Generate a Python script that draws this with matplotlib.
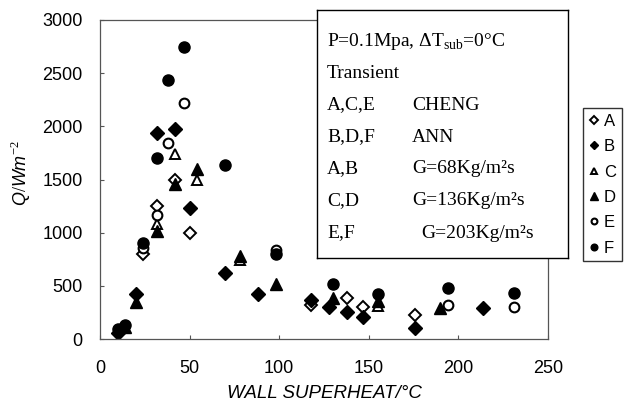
import matplotlib.pyplot as plt

plt.rcParams['mathtext.fontset'] = 'custom'
plt.rcParams['mathtext.rm'] = 'Liberation Serif'
plt.rcParams['mathtext.it'] = 'Liberation Sans:italic'

# data (wall superheat in C, heat flux in W/m2)
a_x = [24, 32, 42, 50, 118, 138, 147, 176]
a_y = [800, 1250, 1500, 1000, 320, 385, 300, 230]
b_x = [10, 20, 32, 42, 50, 70, 88, 118, 128, 138, 147, 176, 214]
b_y = [60, 420, 1940, 1975, 1230, 620, 420, 370, 300, 250, 210, 100, 290]
c_x = [32, 42, 54, 78, 155]
c_y = [1080, 1740, 1500, 740, 310]
d_x = [14, 20, 32, 42, 54, 78, 98, 130, 155, 190]
d_y = [110, 350, 1020, 1460, 1600, 780, 520, 390, 360, 290]
e_x = [24, 32, 38, 47, 98, 194, 231]
e_y = [860, 1170, 1840, 2220, 840, 320, 300]
f_x = [10, 14, 24, 32, 38, 47, 70, 98, 130, 155, 194, 231]
f_y = [90, 130, 900, 1700, 2440, 2750, 1640, 800, 520, 420, 480, 430]

xticks = [0, 50, 100, 150, 200, 250]
yticks = [0, 500, 1000, 1500, 2000, 2500, 3000]

W, H = 630, 407
fig = plt.figure(figsize=(W / 100, H / 100), dpi=100)
ax = fig.add_axes([100 / W, 1 - 339 / H, 448 / W, 319 / H])

ax.plot(a_x, a_y, 'D', ms=6.5, mfc='white', mec='black', mew=1.4, label='A')
ax.plot(b_x, b_y, 'D', ms=7, color='black', label='B')
ax.plot(c_x, c_y, '^', ms=7.5, mfc='white', mec='black', mew=1.4, label='C')
ax.plot(d_x, d_y, '^', ms=8.5, color='black', label='D')
ax.plot(e_x, e_y, 'o', ms=7, mfc='white', mec='black', mew=1.5, label='E')
ax.plot(f_x, f_y, 'o', ms=8, color='black', label='F')

ax.set_xlim(0, 250)
ax.set_ylim(0, 3000)
ax.set_xticks(xticks)
ax.set_yticks(yticks)
for s in ax.spines.values():
    s.set_color('#555555')
    s.set_linewidth(0.9)
ax.tick_params(direction='in', length=3, color='#555555', labelsize=13)
ax.tick_params(axis='x', pad=15)
ax.tick_params(axis='y', pad=12.5)
for lab in ax.get_xticklabels() + ax.get_yticklabels():
    lab.set_family('Liberation Sans')

ax.set_xlabel('WALL SUPERHEAT/\u00b0C', family='Liberation Sans', style='italic',
              fontsize=13.5)
ax.xaxis.set_label_coords(0.5, -0.145)
ax.set_ylabel(r'$Q/Wm^{-2}$', fontsize=13)
ax.yaxis.set_label_coords(-0.15, 0.52)

ax.legend(loc='upper left', bbox_to_anchor=(583 / W, 1 - 108 / H),
          bbox_transform=fig.transFigure, frameon=True, fancybox=False,
          edgecolor='black', markerscale=0.6, handlelength=0.6,
          handletextpad=0.3, borderpad=0.35, labelspacing=0.62,
          borderaxespad=0, prop={'family': 'Liberation Sans', 'size': 12})

# the condition box
box = fig.add_axes([317 / W, 1 - 258 / H, 251 / W, 248 / H])
box.set_xticks([])
box.set_yticks([])
for s in box.spines.values():
    s.set_color('black')
    s.set_linewidth(1)

left = [r'P=0.1Mpa, $\Delta\mathrm{T}_{\mathrm{sub}}$=0°C', 'Transient',
        'A,C,E', 'B,D,F', 'A,B', 'C,D', 'E,F']
right = ['', '', 'CHENG', 'ANN', 'G=68Kg/m²s', 'G=136Kg/m²s', 'G=203Kg/m²s']
right_x = [0, 0, 412, 412, 412, 412, 421]
for i in range(7):
    y = 1 - (41 + 32 * i) / H
    fig.text(327 / W, y, left[i], family='Liberation Serif', fontsize=14,
             va='center')
    if right[i]:
        fig.text(right_x[i] / W, y, right[i], family='Liberation Serif',
                 fontsize=14, va='center')

fig.savefig('out.png', dpi=100)
